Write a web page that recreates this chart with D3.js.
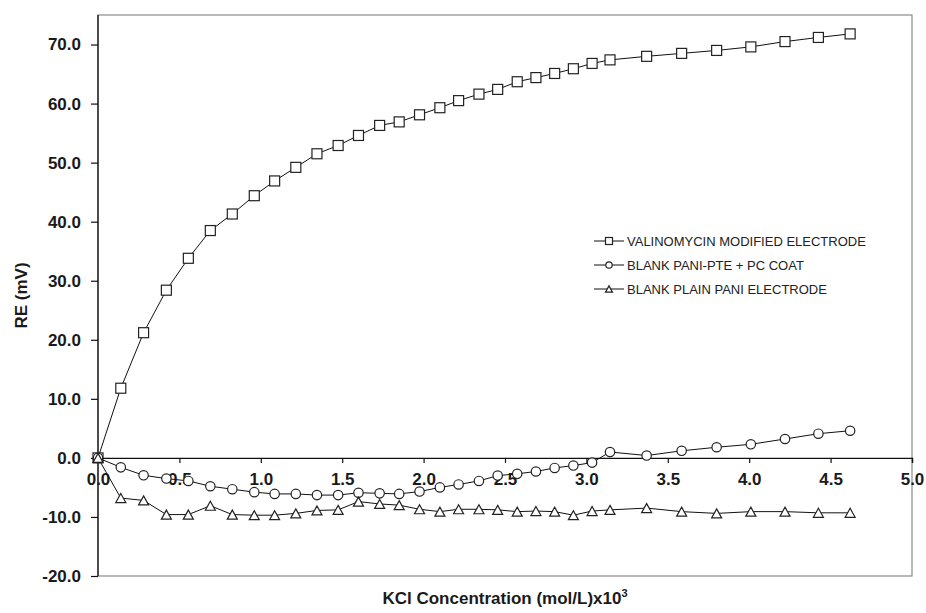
<!DOCTYPE html>
<html>
<head>
<meta charset="utf-8">
<script src="https://cdn.jsdelivr.net/npm/d3@7"></script>
<style>
  html, body { margin: 0; padding: 0; background: #fff; }
  svg { display: block; font-family: Arial, "Liberation Sans", sans-serif; }
</style>
</head>
<body>
<svg id="chart" width="926" height="613"></svg>
<script>
// KCl concentration (mol/L) x10^3, shared by all series
const concentration = [0, 0.14, 0.28, 0.42, 0.555, 0.69, 0.825, 0.96, 1.085, 1.215, 1.345, 1.475,
  1.60, 1.73, 1.85, 1.975, 2.10, 2.215, 2.34, 2.455, 2.575, 2.69, 2.805, 2.92, 3.035, 3.145,
  3.37, 3.585, 3.80, 4.01, 4.22, 4.425, 4.62];
const valinomycin = [0, 11.8, 21.2, 28.4, 33.8, 38.5, 41.3, 44.4, 46.9, 49.2, 51.5, 52.9,
  54.6, 56.3, 56.9, 58.1, 59.3, 60.5, 61.6, 62.4, 63.7, 64.4, 65.1, 65.9, 66.8, 67.4,
  68.0, 68.5, 69.0, 69.6, 70.5, 71.2, 71.8];
const blankPaniPte = [0, -1.6, -2.95, -3.5, -3.9, -4.8, -5.3, -5.8, -6.1, -6.1, -6.3, -6.3,
  -5.9, -6.0, -6.1, -5.7, -5.0, -4.5, -3.9, -3.0, -2.7, -2.3, -1.7, -1.3, -0.8, 1.0,
  0.4, 1.2, 1.8, 2.3, 3.2, 4.1, 4.6];
const blankPlainPani = [0, -6.8, -7.2, -9.6, -9.6, -8.1, -9.6, -9.7, -9.7, -9.4, -8.9, -8.8,
  -7.4, -7.8, -8.0, -8.7, -9.1, -8.7, -8.7, -8.8, -9.1, -9.0, -9.1, -9.7, -9.0, -8.8,
  -8.5, -9.1, -9.4, -9.1, -9.1, -9.3, -9.3];
const seriesNames = ["VALINOMYCIN MODIFIED ELECTRODE", "BLANK PANI-PTE + PC COAT", "BLANK PLAIN PANI ELECTRODE"];
const seriesMarkers = ["square", "circle", "triangle"];
const xTicks = [0, 0.5, 1.0, 1.5, 2.0, 2.5, 3.0, 3.5, 4.0, 4.5, 5.0];
const yTicks = [-20, -10, 0, 10, 20, 30, 40, 50, 60, 70];
const xTitle = "KCl Concentration (mol/L)x10";
const xTitleSup = "3";
const yTitle = "RE (mV)";

const svg = d3.select("#chart");
const x = d3.scaleLinear().domain([0, 5]).range([98, 912]);
const y = d3.scaleLinear().domain([-20, 75]).range([576, 15]);
const fmt = d => d.toFixed(1);

// frame
svg.append("rect")
  .attr("x", x(0)).attr("y", y(75))
  .attr("width", x(5) - x(0)).attr("height", y(-20) - y(75))
  .attr("fill", "none").attr("stroke", "#8a8a8a").attr("stroke-width", 1.2);

// y axis
const yAxis = svg.append("g")
  .attr("transform", `translate(${x(0)},0)`)
  .call(d3.axisLeft(y).tickValues(yTicks).tickFormat(fmt).tickSize(7).tickPadding(10));
yAxis.select(".domain").attr("stroke", "#111").attr("stroke-width", 1.3)
  .attr("d", `M0,${y(75)}V${y(-20)}`);
yAxis.selectAll(".tick line").attr("stroke", "#111").attr("stroke-width", 1.2);
yAxis.selectAll("text").attr("font-size", 17).attr("font-weight", "bold").attr("fill", "#1a1a1a")
  .attr("font-family", "Arial, 'Liberation Sans', sans-serif");

// x axis at y = 0
const xAxis = svg.append("g")
  .attr("transform", `translate(0,${y(0)})`)
  .call(d3.axisBottom(x).tickValues(xTicks).tickFormat(fmt).tickSize(5).tickPadding(10));
xAxis.select(".domain").attr("stroke", "#111").attr("stroke-width", 1.3);
xAxis.selectAll(".tick line").attr("stroke", "#111").attr("stroke-width", 1.2);
xAxis.selectAll("text").attr("font-size", 17).attr("font-weight", "bold").attr("fill", "#1a1a1a")
  .attr("font-family", "Arial, 'Liberation Sans', sans-serif");

// axis titles
const xt = svg.append("text")
  .attr("x", (x(0) + x(5)) / 2).attr("y", 604)
  .attr("text-anchor", "middle")
  .attr("font-size", 17).attr("font-weight", "bold").attr("fill", "#1a1a1a");
xt.append("tspan").text(xTitle);
xt.append("tspan").attr("dy", -7).attr("font-size", 11).text(xTitleSup);

svg.append("text")
  .attr("transform", `translate(27,${(y(75) + y(-20)) / 2}) rotate(-90)`)
  .attr("text-anchor", "middle")
  .attr("font-size", 17).attr("font-weight", "bold").attr("fill", "#1a1a1a")
  .text(yTitle);

// data
const allSeries = [valinomycin, blankPaniPte, blankPlainPani];
const line = d3.line().x(d => x(d[0])).y(d => y(d[1]));

function drawMarker(g, type, cx, cy, s) {
  const stroke = "#222", sw = 1.2;
  if (type === "square") {
    g.append("rect").attr("x", cx - s / 2).attr("y", cy - s / 2).attr("width", s).attr("height", s)
      .attr("fill", "#fff").attr("stroke", stroke).attr("stroke-width", sw);
  } else if (type === "circle") {
    g.append("circle").attr("cx", cx).attr("cy", cy).attr("r", s / 2 - 0.3)
      .attr("fill", "#fff").attr("stroke", stroke).attr("stroke-width", sw);
  } else {
    const h = s * 0.9;
    g.append("path")
      .attr("d", `M${cx},${cy - h * 0.5}L${cx + s / 2},${cy + h * 0.5}L${cx - s / 2},${cy + h * 0.5}Z`)
      .attr("fill", "#fff").attr("stroke", stroke).attr("stroke-width", sw);
  }
}

allSeries.forEach((vals, i) => {
  const pts = concentration.map((c, k) => [c, vals[k]]);
  const g = svg.append("g");
  g.append("path").datum(pts).attr("d", line)
    .attr("fill", "none").attr("stroke", "#111").attr("stroke-width", 1);
  pts.forEach(p => drawMarker(g, seriesMarkers[i], x(p[0]), y(p[1]), 10));
});

// legend
const legendY = [241, 265, 289];
seriesNames.forEach((name, i) => {
  const g = svg.append("g");
  g.append("line").attr("x1", 594).attr("x2", 624).attr("y1", legendY[i]).attr("y2", legendY[i])
    .attr("stroke", "#111").attr("stroke-width", 1);
  drawMarker(g, seriesMarkers[i], 609, legendY[i], 7);
  g.append("text").attr("x", 627).attr("y", legendY[i]).attr("dy", "0.36em")
    .attr("font-size", 13).attr("fill", "#222").text(name);
});
</script>
</body>
</html>
